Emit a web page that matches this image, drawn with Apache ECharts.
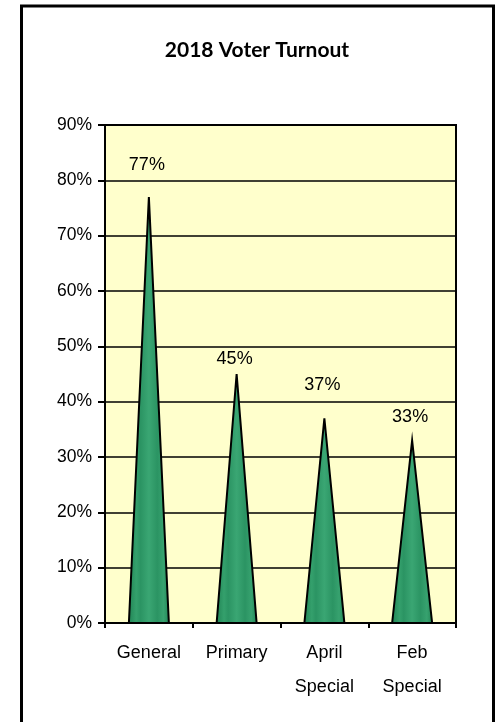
<!DOCTYPE html>
<html>
<head>
<meta charset="utf-8">
<script src="https://cdn.jsdelivr.net/npm/echarts@6/dist/echarts.min.js"></script>
<style>
html,body{margin:0;padding:0;background:#fff;}
#chart{width:502px;height:722px;}
</style>
</head>
<body>
<div id="chart"></div>
<script>
var categories = ['General', 'Primary', 'April\nSpecial', 'Feb\nSpecial'];
var turnout = [77, 45, 37, 33];
var yTicks = [0, 10, 20, 30, 40, 50, 60, 70, 80, 90];
var labelOffsets = [32, 15, 33, 23];

var chart = echarts.init(document.getElementById('chart'), null, {renderer: 'canvas'});
var greenFill = new echarts.graphic.LinearGradient(0, 0, 1, 0, [
  {offset: 0, color: '#1f8253'},
  {offset: 0.2, color: '#34a06c'},
  {offset: 0.3, color: '#2b9463'},
  {offset: 0.5, color: '#3aa673'},
  {offset: 0.7, color: '#2b9463'},
  {offset: 0.85, color: '#37a26f'},
  {offset: 1, color: '#1f8253'}
]);
var halfBase = 20;

chart.setOption({
  animation: false,
  backgroundColor: '#ffffff',
  title: {
    text: '2018 Voter Turnout',
    left: 252,
    textAlign: 'center',
    top: 35,
    textStyle: {fontFamily: 'Lato', fontWeight: 'bold', fontSize: 21, color: '#000'}
  },
  graphic: [{
    type: 'rect',
    shape: {x: 21.5, y: 6, width: 472, height: 740},
    style: {fill: 'none', stroke: '#000', lineWidth: 3},
    silent: true,
    z: 100
  }],
  grid: {
    left: 105, right: 46, top: 125, bottom: 99,
    show: true, backgroundColor: '#FFFFCC', borderColor: '#000', borderWidth: 2
  },
  xAxis: {
    type: 'category',
    data: categories,
    axisLine: {lineStyle: {color: '#000', width: 2}},
    axisTick: {show: true, length: 5, lineStyle: {color: '#000', width: 2}},
    axisLabel: {
      margin: 13, color: '#000', fontFamily: 'Liberation Sans', fontSize: 18, lineHeight: 34
    }
  },
  yAxis: {
    type: 'value',
    min: 0, max: 90, interval: 10,
    axisLine: {show: true, lineStyle: {color: '#000', width: 2}},
    axisTick: {show: true, length: 7, lineStyle: {color: '#000', width: 2}},
    splitLine: {show: true, lineStyle: {color: '#000', width: 1.5}},
    axisLabel: {
      margin: 13, color: '#000', fontFamily: 'Liberation Sans', fontSize: 17.5,
      formatter: function (v) { return yTicks.indexOf(v) >= 0 ? v + '%' : ''; }
    }
  },
  series: [{
    type: 'custom',
    data: turnout.map(function (v, i) { return [i, v]; }),
    encode: {x: 0, y: 1},
    renderItem: function (params, api) {
      var i = api.value(0);
      var v = api.value(1);
      var base = api.coord([i, 0]);
      var peak = api.coord([i, v]);
      return {
        type: 'group',
        children: [{
          type: 'polygon',
          shape: {points: [[base[0] - halfBase, base[1]], [peak[0], peak[1]], [base[0] + halfBase, base[1]]]},
          style: {fill: greenFill, stroke: '#000', lineWidth: 2, lineJoin: 'miter'}
        }, {
          type: 'text',
          style: {
            text: v + '%', x: peak[0] - 2, y: peak[1] - labelOffsets[params.dataIndex],
            textAlign: 'center', textVerticalAlign: 'middle',
            fill: '#000', font: '18px "Liberation Sans"'
          }
        }]
      };
    },
    z: 10
  }]
});
</script>
</body>
</html>
